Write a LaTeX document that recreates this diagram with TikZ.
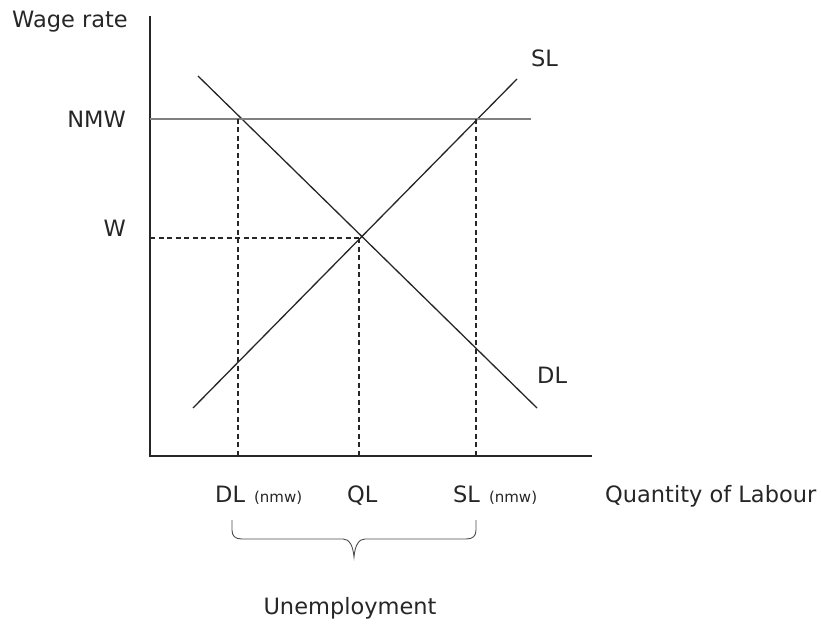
\documentclass[tikz,border=0pt]{standalone}
\usepackage{fontspec}
\setmainfont{DejaVu Sans}
\usetikzlibrary{calc,positioning}

\newcommand{\bigtxt}{\fontsize{22.5bp}{27bp}\selectfont}
\newcommand{\smalltxt}{\fontsize{15bp}{18bp}\selectfont}

\begin{document}
\begin{tikzpicture}[x=1bp,y=-1bp,
  lbl/.style={font=\bigtxt, text=black!85, inner sep=0pt},
  axis/.style={line width=1.3bp, black!85},
  curve/.style={line width=1.3bp, black!85},
  floor/.style={line width=1.3bp, black!50},
  guide/.style={line width=1.2bp, black!85, dash pattern=on 5bp off 3.5bp}]
  \useasboundingbox (0,0) rectangle (822,625);
  % axes
  \coordinate (O) at (150,456);
  \coordinate (ytop) at (150,16);
  \coordinate (xend) at (592,456);
  \draw[axis] (ytop) -- (O) -- (xend);
  % key points
  \coordinate (eq) at (359,238);
  \coordinate (dnmw) at (238,119);
  \coordinate (snmw) at (476,119);
  \coordinate (wax) at (150,238);
  \coordinate (nmwax) at (150,119);
  \coordinate (nmwend) at (531,119);
  % demand and supply of labour
  \coordinate (dl1) at (198,76);
  \coordinate (dl2) at (537,408);
  \coordinate (sl1) at (193,408);
  \coordinate (sl2) at (517,79);
  \draw[curve] (dl1) -- (dl2);
  \draw[curve] (sl1) -- (sl2);
  % minimum wage
  \draw[floor] (nmwax) -- (nmwend);
  % guides
  \draw[guide] (wax) -- (eq);
  \foreach \p in {dnmw,eq,snmw}{
    \draw[guide] (\p) -- (\p |- O);
  }
  % labels
  \node[lbl, anchor=base west] (wage) at (12,28) {Wage rate};
  \node[lbl, anchor=base east] (nmw) at (126,128) {NMW};
  \node[lbl, anchor=base east] (w) at (126,237) {W};
  \node[lbl, anchor=base west] (sl) at (531,67) {SL};
  \node[lbl, anchor=base west] (dl) at (537,383) {DL};
  \node[lbl, anchor=base west] (qdl) at (215,502) {DL\hspace{9bp}{\smalltxt (nmw)}};
  \node[lbl, anchor=base west] (ql) at (347,502) {QL};
  \node[lbl, anchor=base west] (qsl) at (453,502) {SL\hspace{9bp}{\smalltxt (nmw)}};
  \node[lbl, anchor=base west] (qty) at (605,502) {Quantity of Labour};
  \node[lbl, anchor=base] (unemp) at (350,614) {Unemployment};
  % brace
  \coordinate (bl) at (232,520);
  \coordinate (br) at (476,520);
  \coordinate (btip) at (354,557);
  \draw[line width=0.9bp, black!70] (bl) -- (232,530)
    .. controls (232,536) and (235,539) .. (242,539) -- (343,539)
    .. controls (349,539) and (353,545) .. (btip)
    .. controls (355,545) and (359,539) .. (365,539) -- (466,539)
    .. controls (473,539) and (476,536) .. (476,530) -- (br);
\end{tikzpicture}
\end{document}
